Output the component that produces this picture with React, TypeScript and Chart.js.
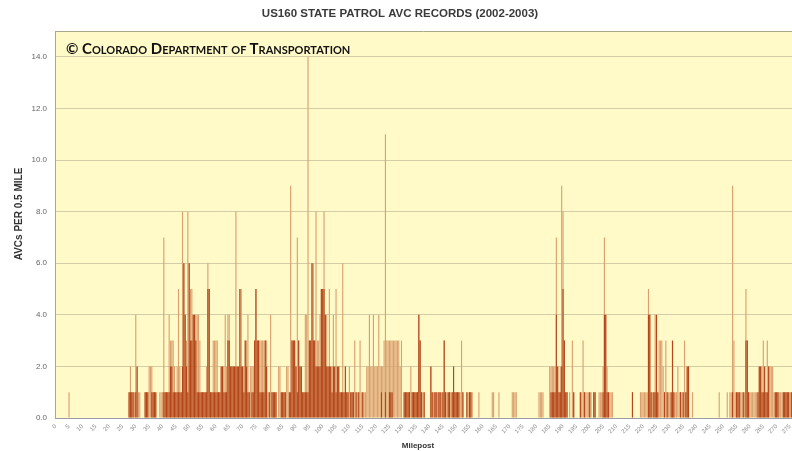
import React, { useEffect, useRef } from 'react';
import { Chart, registerables } from 'chart.js';

Chart.register(...registerables);

const TITLE = 'US160 STATE PATROL AVC RECORDS (2002-2003)';
const Y_TITLE = 'AVCs PER 0.5 MILE';
const X_TITLE = 'Milepost';
const CREDIT = '© Colorado Department of Transportation';
const BIN_MILES = 0.5;
const LABEL_EVERY_MILES = 5;
const Y_TICKS = [0, 2, 4, 6, 8, 10, 12, 14];
const Y_MAX = 15;

// AVCs per 0.5-mile bin (total height of each bar), bins 0..551 (milepost 0 .. 275.5)
const TOTAL = [
  0, 0, 0, 0, 0, 0, 0, 0, 0, 0,
  1, 0, 0, 0, 0, 0, 0, 0, 0, 0,
  0, 0, 0, 0, 0, 0, 0, 0, 0, 0,
  0, 0, 0, 0, 0, 0, 0, 0, 0, 0,
  0, 0, 0, 0, 0, 0, 0, 0, 0, 0,
  0, 0, 0, 0, 0, 1, 2, 1, 1, 1,
  4, 2, 1, 1, 0, 0, 0, 1, 1, 1,
  2, 2, 2, 1, 1, 1, 0, 0, 1, 1,
  1, 7, 1, 1, 1, 4, 3, 3, 3, 2,
  1, 2, 5, 2, 1, 8, 6, 4, 3, 8,
  6, 5, 5, 4, 4, 4, 4, 4, 3, 1,
  1, 1, 1, 2, 6, 5, 1, 1, 3, 3,
  3, 3, 1, 1, 2, 2, 2, 4, 2, 4,
  4, 2, 2, 2, 2, 8, 2, 2, 5, 5,
  2, 2, 3, 3, 4, 1, 2, 2, 2, 3,
  5, 3, 3, 3, 3, 3, 3, 3, 3, 1,
  1, 4, 1, 1, 1, 1, 0, 2, 2, 1,
  1, 1, 1, 2, 2, 1, 9, 3, 3, 3,
  2, 7, 3, 2, 2, 1, 1, 4, 4, 14,
  3, 3, 6, 6, 3, 8, 3, 3, 4, 5,
  5, 8, 4, 4, 2, 5, 2, 2, 4, 2,
  5, 2, 2, 1, 1, 6, 1, 2, 1, 1,
  2, 1, 1, 1, 3, 1, 1, 1, 3, 1,
  1, 1, 1, 2, 2, 4, 2, 2, 4, 2,
  2, 2, 4, 2, 2, 2, 3, 11, 3, 3,
  3, 3, 3, 3, 3, 3, 3, 3, 2, 3,
  0, 1, 1, 1, 1, 1, 2, 1, 1, 1,
  1, 1, 4, 3, 1, 1, 1, 0, 0, 0,
  0, 2, 1, 1, 1, 1, 1, 1, 1, 1,
  1, 3, 1, 1, 1, 1, 1, 1, 2, 1,
  1, 1, 1, 1, 3, 1, 0, 0, 1, 1,
  1, 1, 1, 0, 0, 0, 0, 1, 0, 0,
  0, 0, 0, 0, 0, 0, 0, 1, 1, 0,
  0, 0, 1, 0, 0, 0, 0, 0, 0, 0,
  0, 0, 1, 1, 1, 1, 0, 0, 0, 0,
  0, 0, 0, 0, 0, 0, 0, 0, 0, 0,
  0, 0, 1, 1, 1, 1, 0, 0, 0, 0,
  2, 2, 2, 2, 2, 7, 2, 1, 2, 9,
  8, 3, 1, 1, 0, 1, 0, 3, 1, 0,
  0, 0, 0, 1, 1, 3, 1, 1, 1, 1,
  1, 1, 0, 1, 1, 0, 0, 1, 1, 1,
  2, 7, 4, 2, 1, 1, 1, 1, 0, 0,
  0, 0, 0, 0, 0, 0, 0, 0, 0, 0,
  0, 0, 1, 0, 0, 0, 0, 0, 1, 1,
  1, 1, 1, 1, 5, 4, 1, 1, 1, 4,
  4, 1, 3, 3, 3, 2, 1, 3, 1, 1,
  1, 1, 3, 1, 1, 1, 2, 1, 1, 1,
  1, 3, 1, 2, 2, 0, 0, 1, 0, 0,
  0, 0, 0, 0, 0, 0, 0, 0, 0, 0,
  0, 0, 0, 0, 0, 0, 0, 1, 0, 0,
  0, 0, 0, 1, 0, 1, 1, 9, 3, 1,
  1, 1, 1, 1, 1, 1, 1, 5, 3, 1,
  1, 1, 1, 1, 1, 1, 1, 2, 2, 2,
  3, 2, 1, 3, 2, 2, 2, 2, 1, 1,
  1, 1, 1, 1, 1, 1, 1, 1, 1, 1,
  1, 1,
];

// darker lower part of each bar, same bins
const DARK = [
  0, 0, 0, 0, 0, 0, 0, 0, 0, 0,
  0, 0, 0, 0, 0, 0, 0, 0, 0, 0,
  0, 0, 0, 0, 0, 0, 0, 0, 0, 0,
  0, 0, 0, 0, 0, 0, 0, 0, 0, 0,
  0, 0, 0, 0, 0, 0, 0, 0, 0, 0,
  0, 0, 0, 0, 0, 1, 1, 1, 1, 0,
  1, 2, 0, 0, 0, 0, 0, 1, 1, 1,
  0, 0, 1, 1, 1, 1, 0, 0, 0, 0,
  0, 1, 1, 1, 1, 1, 2, 2, 1, 1,
  1, 1, 1, 1, 1, 2, 6, 4, 2, 1,
  6, 3, 3, 4, 4, 3, 1, 1, 1, 1,
  1, 1, 1, 1, 5, 5, 1, 1, 1, 1,
  1, 1, 1, 1, 2, 2, 1, 1, 1, 3,
  3, 2, 2, 2, 2, 2, 2, 2, 5, 2,
  2, 1, 3, 2, 1, 1, 0, 1, 1, 3,
  5, 3, 3, 1, 1, 1, 1, 3, 2, 0,
  1, 0, 1, 1, 1, 1, 0, 0, 0, 1,
  1, 1, 1, 0, 0, 1, 1, 3, 3, 3,
  2, 1, 3, 2, 2, 1, 1, 1, 1, 1,
  3, 3, 6, 3, 3, 2, 2, 2, 2, 5,
  5, 5, 4, 2, 2, 2, 2, 1, 2, 2,
  1, 2, 2, 1, 1, 1, 1, 2, 1, 1,
  0, 1, 1, 1, 0, 1, 0, 1, 0, 0,
  1, 0, 0, 0, 0, 0, 0, 0, 0, 0,
  0, 0, 0, 0, 1, 0, 0, 1, 0, 0,
  1, 1, 1, 0, 0, 0, 0, 0, 0, 0,
  0, 1, 1, 1, 1, 1, 0, 1, 1, 1,
  1, 1, 4, 3, 1, 0, 1, 0, 0, 0,
  0, 2, 1, 0, 1, 1, 0, 1, 1, 0,
  1, 3, 1, 0, 1, 1, 0, 1, 2, 1,
  1, 1, 1, 0, 0, 1, 0, 0, 1, 0,
  1, 1, 0, 0, 0, 0, 0, 0, 0, 0,
  0, 0, 0, 0, 0, 0, 0, 0, 0, 0,
  0, 0, 0, 0, 0, 0, 0, 0, 0, 0,
  0, 0, 0, 0, 0, 0, 0, 0, 0, 0,
  0, 0, 0, 0, 0, 0, 0, 0, 0, 0,
  0, 0, 0, 0, 0, 0, 0, 0, 0, 0,
  0, 1, 1, 1, 1, 4, 2, 1, 1, 2,
  5, 3, 1, 1, 0, 0, 0, 0, 1, 0,
  0, 0, 0, 1, 0, 0, 1, 0, 0, 0,
  1, 0, 0, 1, 1, 0, 0, 0, 0, 0,
  1, 4, 4, 1, 1, 0, 0, 0, 0, 0,
  0, 0, 0, 0, 0, 0, 0, 0, 0, 0,
  0, 0, 1, 0, 0, 0, 0, 0, 0, 0,
  0, 0, 0, 0, 4, 4, 1, 0, 1, 1,
  4, 1, 0, 0, 0, 0, 1, 0, 1, 0,
  0, 1, 3, 1, 0, 0, 0, 0, 1, 0,
  1, 0, 1, 2, 2, 0, 0, 0, 0, 0,
  0, 0, 0, 0, 0, 0, 0, 0, 0, 0,
  0, 0, 0, 0, 0, 0, 0, 0, 0, 0,
  0, 0, 0, 0, 0, 0, 0, 1, 0, 0,
  1, 1, 1, 0, 0, 1, 0, 3, 3, 1,
  0, 0, 0, 0, 0, 0, 1, 2, 2, 1,
  1, 2, 1, 1, 2, 0, 0, 0, 0, 1,
  1, 1, 0, 0, 0, 1, 1, 1, 1, 1,
  0, 1,
];

const MILEPOSTS = TOTAL.map((_, i) => i * BIN_MILES);

const FONT = '"Liberation Sans", Arial, sans-serif';

const bgPlugin = {
  id: 'bgPlugin',
  beforeDraw(chart: any) {
    const { ctx, chartArea, width, height } = chart;
    ctx.save();
    ctx.fillStyle = '#ffffff';
    ctx.fillRect(0, 0, width, height);
    ctx.fillStyle = '#FFFAC8';
    ctx.fillRect(chartArea.left, chartArea.top, chartArea.right - chartArea.left, chartArea.bottom - chartArea.top);
    ctx.restore();
  },
  afterDraw(chart: any) {
    const { ctx, chartArea, width } = chart;
    ctx.save();
    ctx.strokeStyle = '#A9A88E';
    ctx.lineWidth = 1;
    ctx.beginPath();
    ctx.moveTo(chartArea.left, chartArea.top + 0.5);
    ctx.lineTo(chartArea.right, chartArea.top + 0.5);
    ctx.stroke();

    ctx.fillStyle = '#3a3a3a';
    ctx.font = 'bold 11.5px ' + FONT;
    ctx.textAlign = 'center';
    ctx.textBaseline = 'middle';
    ctx.fillText(TITLE, width / 2 + 4, 14);

    ctx.fillStyle = '#333';
    ctx.font = 'bold 8px ' + FONT;
    ctx.fillText(X_TITLE, 418, 446);

    ctx.translate(19, 214);
    ctx.rotate(-Math.PI / 2);
    ctx.font = 'bold 10px ' + FONT;
    ctx.fillText(Y_TITLE, 0, 0);
    ctx.restore();
  },
};

export default function App() {
  const ref = useRef<HTMLCanvasElement | null>(null);

  useEffect(() => {
    if (!ref.current) return;
    const chart = new Chart(ref.current, {
      type: 'bar',
      data: {
        labels: MILEPOSTS.map(String),
        datasets: [
          {
            label: 'dark',
            data: DARK,
            backgroundColor: '#B4461A',
            borderWidth: 0,
            grouped: false,
            barPercentage: 0.85,
            categoryPercentage: 1,
            order: 0,
          },
          {
            label: 'total',
            data: TOTAL,
            backgroundColor: '#DBA06E',
            borderWidth: 0,
            grouped: false,
            barPercentage: 0.85,
            categoryPercentage: 1,
            order: 1,
          },
        ],
      } as any,
      options: {
        responsive: false,
        animation: false,
        devicePixelRatio: 1,
        layout: { padding: { top: 31, right: 0, bottom: 0, left: 0 } },
        plugins: {
          legend: { display: false },
          tooltip: { enabled: false },
          title: { display: false },
        },
        scales: {
          x: {
            grid: { display: false, drawTicks: false },
            border: { color: '#9C9CA8', width: 1 },
            ticks: {
              autoSkip: false,
              minRotation: 45,
              maxRotation: 45,
              padding: 5,
              color: '#8a8a8a',
              font: { size: 6, family: FONT },
              callback: (_v: any, i: number) =>
                MILEPOSTS[i] % LABEL_EVERY_MILES === 0 ? String(MILEPOSTS[i]) : null,
            },
            afterFit: (s: any) => {
              s.height = 33;
              s.paddingLeft = 0;
              s.paddingRight = 0;
            },
          },
          y: {
            min: 0,
            max: Y_MAX,
            grid: { color: '#D2CDA6', drawTicks: false },
            border: { color: '#A9A88E', width: 1 },
            ticks: {
              padding: 8,
              color: '#666',
              font: { size: 8, family: FONT },
              callback: (v: any) => Number(v).toFixed(1),
            },
            afterBuildTicks: (s: any) => {
              s.ticks = Y_TICKS.map((v) => ({ value: v }));
            },
            afterFit: (s: any) => {
              s.width = 55;
              s.paddingTop = 0;
              s.paddingBottom = 0;
            },
          },
        },
      } as any,
      plugins: [bgPlugin],
    });
    return () => chart.destroy();
  }, []);

  return (
    <div style={{ position: 'fixed', left: 0, top: 0, width: 792, height: 451, background: '#fff' }}>
      <canvas ref={ref} width={792} height={451} style={{ display: 'block' }} />
      <div
        style={{
          position: 'absolute',
          left: 66,
          top: 40,
          fontFamily: 'Lato, "Open Sans", sans-serif',
          fontWeight: 700,
          fontSize: 15,
          fontVariant: 'small-caps',
          color: '#111',
          whiteSpace: 'nowrap',
          lineHeight: '16px',
        }}
      >
        {CREDIT}
      </div>
    </div>
  );
}
